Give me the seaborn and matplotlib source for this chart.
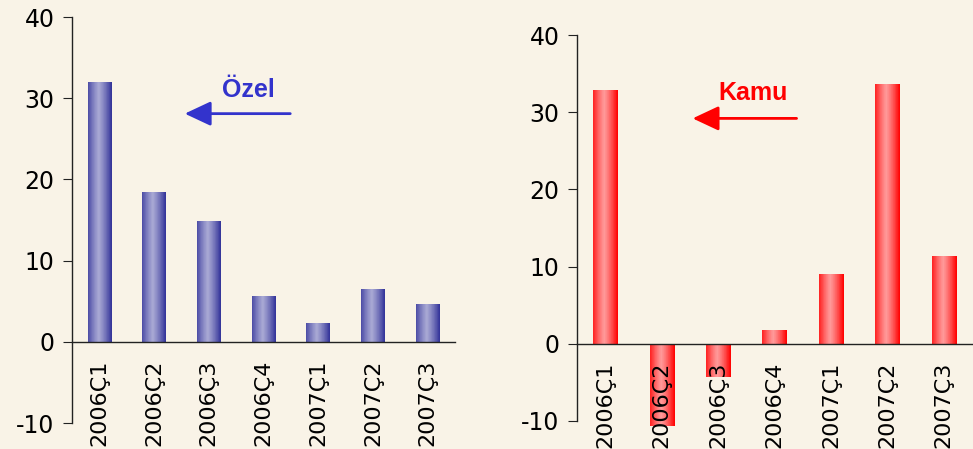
import matplotlib
matplotlib.use("Agg")
import matplotlib.pyplot as plt
import seaborn as sns
import numpy as np
from matplotlib.colors import LinearSegmentedColormap

# ceyrekler ve yillik buyume (%) degerleri
categories = ["2006Ç1", "2006Ç2", "2006Ç3", "2006Ç4", "2007Ç1", "2007Ç2", "2007Ç3"]
ozel = [32.0, 18.4, 14.9, 5.6, 2.3, 6.5, 4.6]
kamu = [32.9, -10.6, -4.3, 1.8, 9.1, 33.6, 11.4]

bg = "#f9f3e7"
sns.set_style("white")
plt.rcParams['font.family'] = ['DejaVu Sans']
plt.rcParams['axes.unicode_minus'] = False
plt.rcParams['axes.axisbelow'] = False

fig = plt.figure(figsize=(9.73, 4.49), dpi=100, facecolor=bg)
ax1 = fig.add_axes([0.074, 0.0579, 0.3936, 0.9042])
ax2 = fig.add_axes([0.593, 0.0624, 0.406, 0.8596])


def gradient_bars(ax, dark, light):
    cmap = LinearSegmentedColormap.from_list("g", [dark, light])
    t = np.linspace(0, 1, 64)
    prof = 1 - np.abs((t - 0.45) / 0.55) ** 1.2
    prof = np.clip(prof, 0, 1)[None, :]
    for p in ax.patches:
        x0, w = p.get_x(), p.get_width()
        y0, h = p.get_y(), p.get_height()
        im = ax.imshow(prof, cmap=cmap, aspect="auto", vmin=0, vmax=1,
                       extent=(x0, x0 + w, min(y0, y0 + h), max(y0, y0 + h)),
                       zorder=1.5, interpolation="nearest")
        im.set_clip_path(p)


def style_axes(ax, values, dark, light):
    sns.barplot(x=categories, y=values, ax=ax, color=dark, width=0.43,
                saturation=1, edgecolor="none")
    gradient_bars(ax, dark, light)
    ax.set_axisbelow(False)
    ax.set_facecolor(bg)
    ax.set_xlim(-0.5, 6.5)
    ax.set_ylim(-10, 40)
    ax.set_yticks([-10, 0, 10, 20, 30, 40])
    for s in ["top", "right"]:
        ax.spines[s].set_visible(False)
    ax.spines["bottom"].set_position(("data", 0))
    for s in ["left", "bottom"]:
        ax.spines[s].set_color("#222222")
        ax.spines[s].set_linewidth(1.0)
    ax.set_xticks(range(len(categories)))
    ax.set_xticklabels(categories, rotation=90, va="top", ha="center")
    ax.set_xticks(np.arange(-0.5, 7, 1), minor=True)
    ax.tick_params(axis="x", which="major", length=0, pad=13, labelsize=16,
                   labelcolor="black")
    ax.tick_params(axis="x", which="minor", length=6, direction="out",
                   color="#222222", width=1)
    ax.tick_params(axis="y", length=6.5, direction="out", pad=6,
                   labelsize=17, left=True, color="#222222", labelcolor="black")
    ax.set_xlabel("")
    ax.set_ylabel("")


style_axes(ax1, ozel, "#333399", "#a8a8d4")
style_axes(ax2, kamu, "#ff0000", "#ff9a9a")

head = "-|>,head_length=1.6,head_width=0.75"
ax1.annotate("", xy=(1.51, 28.1), xytext=(3.54, 28.1),
             arrowprops=dict(arrowstyle=head, color="#3333cc", lw=2))
ax1.text(2.72, 31.0, "Özel", color="#3333cc", fontsize=18, fontweight="bold",
         family="Liberation Sans", ha="center", va="center")

ax2.annotate("", xy=(1.50, 29.2), xytext=(3.44, 29.2),
             arrowprops=dict(arrowstyle=head, color="#ff0000", lw=2))
ax2.text(2.62, 32.5, "Kamu", color="#ff0000", fontsize=18, fontweight="bold",
         family="Liberation Sans", ha="center", va="center")

fig.savefig("out.png", dpi=100, facecolor=bg)
